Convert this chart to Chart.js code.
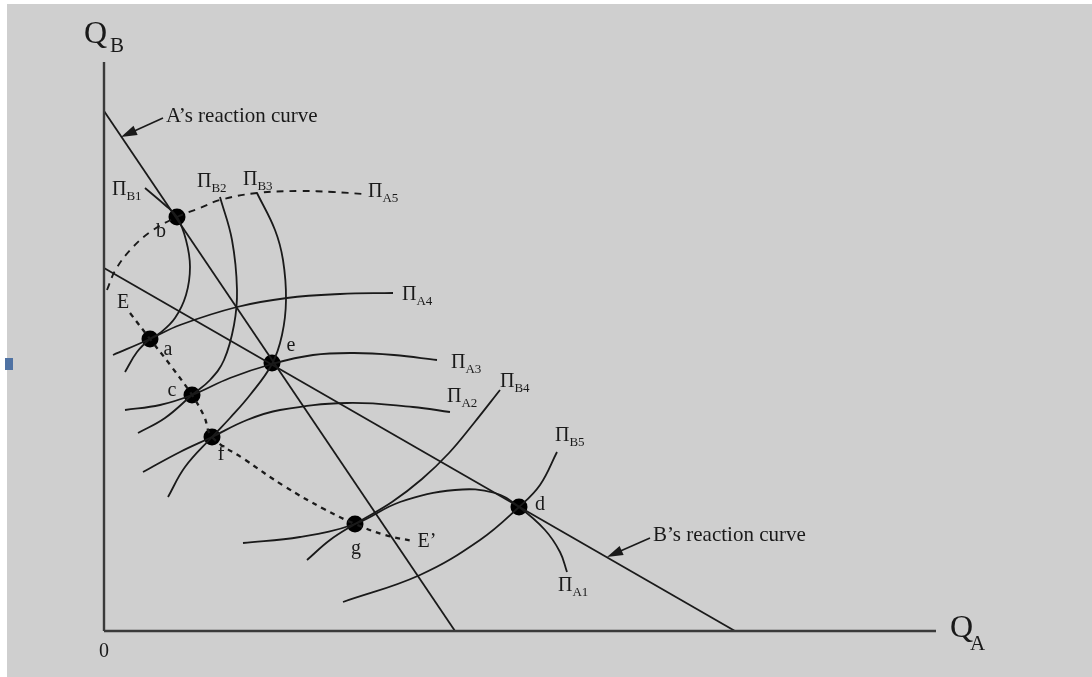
<!DOCTYPE html>
<html><head><meta charset="utf-8">
<script src="https://cdn.jsdelivr.net/npm/chart.js@4"></script>
<style>html,body{margin:0;padding:0;background:#fff;overflow:hidden}canvas{display:block}</style>
</head><body>
<canvas id="c" width="1092" height="677"></canvas>
<script>
// ---- data (diagram units: origin at the axes' corner) ----
const axisX = [[0,0],[832,0]];
const axisY = [[0,0],[0,569]];
const reactionA = [[0,520],[351,0]];
const reactionB = [[0,363],[631,0]];
const isoA5 = [[3,341],[12,362],[29,384],[49,401],[73,414],[96,423],[116,431],[153,438],[196,440],[229,439],[259,437]];
const pathEE = [[26,318],[46,292],[67,265],[88,236],[100,215],[108,194],[140,172],[180,145],[220,122],[251,107],[281,96],[309,90]];
const isoB1 = [[41,443],[61,426],[73,414],[82,391],[86,364],[82,336],[71,313],[56,298],[46,292],[33,279],[21,259]];
const isoB2 = [[116,434],[128,391],[133,341],[130,306],[120,271],[106,251],[88,236],[61,213],[34,198]];
const isoB3 = [[153,438],[171,401],[179,371],[182,331],[178,296],[168,267],[146,236],[126,213],[108,194],[81,164],[64,134]];
const isoB4 = [[396,241],[370,208],[345,178],[318,152],[288,129],[251,107],[226,91],[203,71]];
const isoB5 = [[453,179],[436,146],[415,124],[376,91],[316,56],[239,29]];
const isoA4 = [[9,276],[46,292],[76,306],[133,324],[183,333],[236,337],[289,338]];
const isoA3 = [[21,221],[56,226],[88,236],[126,253],[168,267],[209,276],[250,278],[290,276],[333,271]];
const isoA2 = [[39,159],[76,179],[108,194],[143,211],[176,221],[243,228],[309,224],[346,219]];
const isoA1 = [[139,88],[196,94],[251,107],[296,129],[351,141],[391,138],[415,124],[441,101],[456,79],[463,59]];
const dotNames = ['b','a','e','c','f','g','d'];
const dotPts = [[73,414],[46,292],[168,268],[88,236],[108,194],[251,107],[415,124]];
const dotLabelPos = [[57,399],[64,281],[187,285],[68,240],[117,176],[252,82],[436,126]];
const piNames = ['B1','B2','B3','A5','A4','A3','A2','B4','B5','A1'];
const piPos = [[8,441],[93,449],[139,451],[264,439],[298,336],[347,268],[343,234],[396,249],[451,195],[454,45]];
const textNotes = [["E",19,328],["E\u2019",323,89],["0",0,-21],["A\u2019s reaction curve",62,515],["B\u2019s reaction curve",549,96]];
const arrowsAB = [[[59,513],[17,494]],[[546,93],[503,74]]];

const P = a => a.map(p => ({x:p[0], y:p[1]}));
const INK = '#1a1a1a';
function line(d, o){ return Object.assign({data:P(d), showLine:true, borderColor:INK, borderWidth:1.8, pointRadius:0, tension:0.4, clip:false, fill:false}, o||{}); }

const SERIF = '"Liberation Serif", "DejaVu Serif", serif';
const deco = {
  id:'deco',
  beforeDraw(ch){
    const c = ch.ctx; c.save();
    c.fillStyle='#fff'; c.fillRect(0,0,ch.width,ch.height);
    c.fillStyle='#cfcfcf'; c.fillRect(7,4,ch.width-7,ch.height-4);
    c.fillStyle='#4f72a3'; c.fillRect(5,358,8,12);
    c.restore();
  },
  afterDatasetsDraw(ch){
    const c = ch.ctx, xs = ch.scales.x, ys = ch.scales.y;
    const X = v => xs.getPixelForValue(v), Y = v => ys.getPixelForValue(v);
    c.save();
    c.fillStyle = INK; c.textBaseline='middle';
    c.font = '20px ' + SERIF; c.textAlign='center';
    dotNames.forEach((n,i)=> c.fillText(n, X(dotLabelPos[i][0]), Y(dotLabelPos[i][1])));
    textNotes.forEach(t=>{
      if (t[0].length > 3) { c.textAlign='left'; c.font='21px '+SERIF; }
      else { c.textAlign='center'; c.font='20px '+SERIF; }
      c.fillText(t[0], X(t[1]), Y(t[2]));
    });
    c.textAlign='left';
    piNames.forEach((n,i)=>{
      const px = X(piPos[i][0]), py = Y(piPos[i][1]);
      c.font = '20px ' + SERIF; c.fillText('\u03A0', px, py);
      const w = c.measureText('\u03A0').width;
      c.font = '13px ' + SERIF; c.fillText(n, px + w, py + 7);
    });
    c.font = '32px ' + SERIF; c.textAlign='left';
    c.fillText('Q', X(-20), Y(596));
    c.fillText('Q', X(846), Y(2));
    c.font = '21px ' + SERIF;
    c.fillText('B', X(6), Y(585));
    c.fillText('A', X(866), Y(-13));
    c.strokeStyle = INK; c.lineWidth = 1.6;
    arrowsAB.forEach(a=>{
      const x1=X(a[0][0]), y1=Y(a[0][1]), x2=X(a[1][0]), y2=Y(a[1][1]);
      const ang = Math.atan2(y2-y1, x2-x1), L=16, W=5;
      c.beginPath(); c.moveTo(x1,y1); c.lineTo(x2-Math.cos(ang)*L*0.8, y2-Math.sin(ang)*L*0.8); c.stroke();
      c.beginPath(); c.moveTo(x2,y2);
      c.lineTo(x2-Math.cos(ang)*L - Math.sin(ang)*W, y2-Math.sin(ang)*L + Math.cos(ang)*W);
      c.lineTo(x2-Math.cos(ang)*L + Math.sin(ang)*W, y2-Math.sin(ang)*L - Math.cos(ang)*W);
      c.closePath(); c.fill();
    });
    c.restore();
  }
};

new Chart(document.getElementById('c'), {
  type:'scatter',
  data:{ datasets:[
    line(axisX, {borderColor:'#3a3a3a', borderWidth:2.4, tension:0}),
    line(axisY, {borderColor:'#3a3a3a', borderWidth:2.4, tension:0}),
    line(reactionA, {tension:0}),
    line(reactionB, {tension:0}),
    line(isoA5, {borderDash:[7,6], borderWidth:1.9}),
    line(pathEE, {borderDash:[5,5], borderWidth:2.3}),
    line(isoB1), line(isoB2), line(isoB3), line(isoB4), line(isoB5),
    line(isoA4), line(isoA3), line(isoA2), line(isoA1),
    {data:P(dotPts), showLine:false, pointRadius:8.5, pointHoverRadius:8.5, backgroundColor:'#000', borderColor:'#000', borderWidth:0, clip:false}
  ]},
  options:{
    responsive:false, animation:false, devicePixelRatio:1,
    layout:{padding:{left:104, right:88, top:31, bottom:46}},
    plugins:{legend:{display:false}, tooltip:{enabled:false}},
    scales:{
      x:{type:'linear', min:0, max:900, display:false},
      y:{type:'linear', min:0, max:600, display:false}
    }
  },
  plugins:[deco]
});
</script>
</body></html>
